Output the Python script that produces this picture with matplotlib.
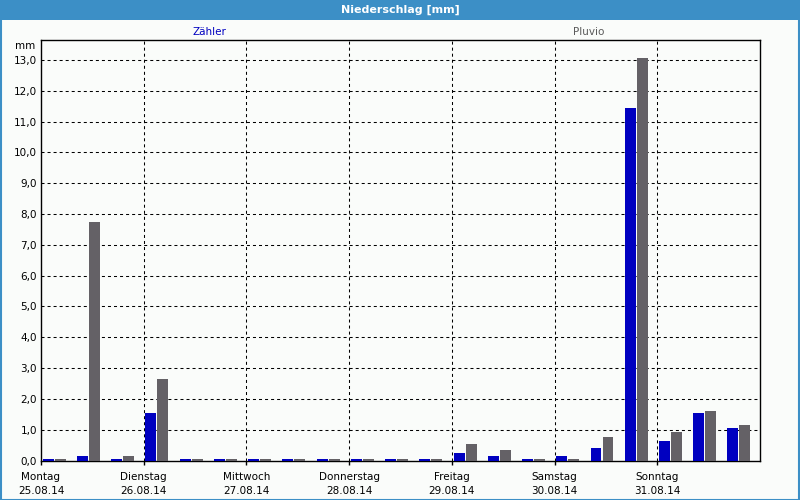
import matplotlib
matplotlib.use("Agg")
import matplotlib.pyplot as plt
from matplotlib.patches import Rectangle
import numpy as np

# ---- data (3 bins per day, 8h each) ----
days = ["Montag", "Dienstag", "Mittwoch", "Donnerstag", "Freitag", "Samstag", "Sonntag"]
dates = ["25.08.14", "26.08.14", "27.08.14", "28.08.14", "29.08.14", "30.08.14", "31.08.14"]
zaehler = [0.04, 0.14, 0.04, 1.54, 0.04, 0.04, 0.04,
           0.04, 0.04, 0.04, 0.04, 0.04, 0.24, 0.13,
           0.04, 0.13, 0.42, 11.43, 0.62, 1.53, 1.04]
pluvio = [0.04, 7.74, 0.14, 2.65, 0.04, 0.04, 0.04,
          0.04, 0.04, 0.04, 0.04, 0.04, 0.53, 0.33,
          0.04, 0.04, 0.75, 13.05, 0.94, 1.62, 1.15]
y_ticks = list(range(0, 14))

BLUE = "#0000c0"
GREY = "#646166"
BAR_BLUE = "#3c8fc6"
BG = "#fafcfa"
DASH = (0, (2.9, 2.9))

plt.rcParams["font.family"] = ["DejaVu Sans"]
plt.rcParams["font.size"] = 7.5

fig = plt.figure(figsize=(8, 5), dpi=100)
fig.patch.set_facecolor(BG)

# window chrome: title bar + border
fig.patches.append(Rectangle((0, 480 / 500), 1, 20 / 500, transform=fig.transFigure,
                             facecolor=BAR_BLUE, edgecolor="none", zorder=0))
fig.patches.append(Rectangle((0.5 / 800, 0.5 / 500), 798.5 / 800, 499 / 500, transform=fig.transFigure,
                             facecolor="none", edgecolor=BAR_BLUE, lw=1.5, zorder=0))
fig.text(0.5, 490 / 500, "Niederschlag [mm]", color="white", fontweight="bold",
         ha="center", va="center", fontsize=8)

ax = fig.add_axes([41 / 800, (500 - 460.5) / 500, 719 / 800, 420.5 / 500])
ax.set_facecolor(BG)

x = np.arange(len(zaehler))
ax.bar(x + 0.21, zaehler, width=0.32, color=BLUE, zorder=3)
ax.bar(x + 0.56, pluvio, width=0.32, color=GREY, zorder=3)

ax.set_xlim(0, len(zaehler))
ax.set_ylim(0, 13.65)

day_pos = np.arange(len(days)) * 3
ax.set_xticks(day_pos)
ax.set_xticklabels([f"{d}\n{t}" for d, t in zip(days, dates)], linespacing=1.55)
ax.set_yticks(y_ticks)
ax.set_yticklabels([f"{v},0" for v in y_ticks])
ax.tick_params(axis="x", length=3, width=1, pad=5, direction="out")
ax.tick_params(axis="y", length=0, pad=3)

for v in y_ticks[1:]:
    ax.axhline(v, color="black", lw=0.75, linestyle=DASH, zorder=1)
for d in day_pos[1:]:
    ax.axvline(d, color="black", lw=0.75, linestyle=DASH, zorder=1)

for s in ax.spines.values():
    s.set_linewidth(1)
    s.set_color("black")

fig.text(35 / 800, 1 - 46 / 500, "mm", ha="right", va="center", fontsize=7.5)
fig.text(209 / 800, 1 - 32 / 500, "Zähler", color=BLUE, ha="center", va="center")
fig.text(589 / 800, 1 - 32 / 500, "Pluvio", color="#5a5a5a", ha="center", va="center")

fig.savefig("out.png", dpi=100, facecolor=BG)
